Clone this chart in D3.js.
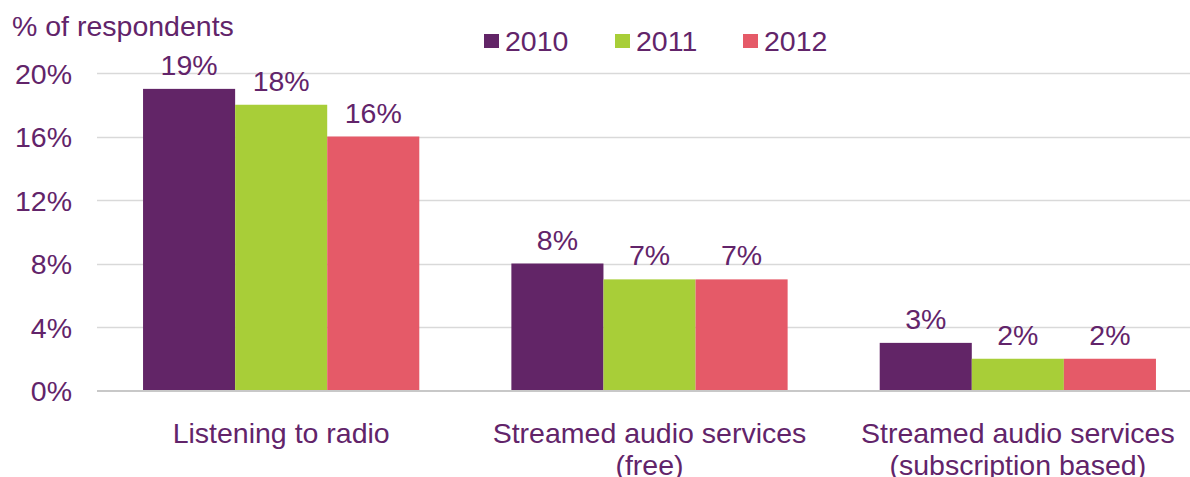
<!DOCTYPE html>
<html><head><meta charset="utf-8">
<script src="https://cdn.jsdelivr.net/npm/d3@7"></script>
<style>body{margin:0;background:#fff;} svg{display:block;font-family:"Liberation Sans",Arial,sans-serif;}</style>
</head><body><svg id="c" width="1190" height="477"></svg>
<script>
const categories = [["Listening to radio"], ["Streamed audio services", "(free)"], ["Streamed audio services", "(subscription based)"]];
const years = ["2010", "2011", "2012"];
const v2010 = [19, 8, 3];
const v2011 = [18, 7, 2];
const v2012 = [16, 7, 2];
const yTicks = [0, 4, 8, 12, 16, 20];
const colors = ["#622567", "#A8CE38", "#E55A68"];
const textColor = "#62246A";
const fs = "28.5px";

const series = [v2010, v2011, v2012];
const svg = d3.select("#c");
const x0 = d3.scaleBand().domain(d3.range(categories.length)).range([97, 1202]).paddingInner(0.25).paddingOuter(0.125);
const x1 = d3.scaleBand().domain(years).range([0, x0.bandwidth()]);
const y = d3.scaleLinear().domain([0, 20]).range([390.5, 73]);

// y axis labels
const yAxis = d3.axisLeft(y).tickValues(yTicks).tickFormat(d => d + "%").tickSize(0).tickPadding(25);
const gy = svg.append("g").attr("transform", "translate(97,0)").call(yAxis);
gy.select(".domain").remove();
gy.selectAll("text").attr("fill", textColor).style("font-size", fs).attr("dy", "0.36em");
// gridlines
svg.append("g").selectAll("line").data(yTicks.filter(d => d > 0)).join("line")
  .attr("x1", 97).attr("x2", 1190).attr("y1", d => Math.round(y(d)) + 0.5).attr("y2", d => Math.round(y(d)) + 0.5)
  .attr("stroke", "#d9d9d9").attr("stroke-width", 1.3);

// bars
const groups = svg.append("g").selectAll("g").data(categories).join("g")
  .attr("transform", (d, i) => `translate(${x0(i)},0)`);
groups.each(function(c, i) {
  const g = d3.select(this);
  years.forEach((yr, j) => {
    const val = series[j][i];
    g.append("rect").attr("x", x1(yr)).attr("width", x1.bandwidth())
      .attr("y", y(val)).attr("height", y(0) - y(val)).attr("fill", colors[j]);
    g.append("text").attr("x", x1(yr) + x1.bandwidth() / 2).attr("y", y(val) - 14)
      .attr("text-anchor", "middle").attr("fill", textColor).style("font-size", fs).text(val + "%");
  });
});

// x axis baseline
svg.append("line").attr("x1", 97).attr("x2", 1190).attr("y1", y(0) + 0.5).attr("y2", y(0) + 0.5)
  .attr("stroke", "#c8c8c8").attr("stroke-width", 2);

// category labels
const xAxis = d3.axisBottom(x0).tickSize(0).tickFormat("");
svg.append("g").attr("transform", `translate(0,${y(0)})`).call(xAxis).select(".domain").remove();
categories.forEach((lines, i) => {
  const t = svg.append("text").attr("x", x0(i) + x0.bandwidth() / 2).attr("y", 443)
    .attr("text-anchor", "middle").attr("fill", textColor).style("font-size", fs);
  lines.forEach((l, k) => t.append("tspan").attr("x", x0(i) + x0.bandwidth() / 2).attr("dy", k === 0 ? 0 : 32).text(l));
});

// title
svg.append("text").attr("x", 12).attr("y", 36).attr("fill", textColor).style("font-size", fs).text("% of respondents");

// legend
const legX = [484, 615, 743];
years.forEach((yr, j) => {
  svg.append("rect").attr("x", legX[j]).attr("y", 34).attr("width", 15).attr("height", 14).attr("fill", colors[j]);
  svg.append("text").attr("x", legX[j] + 21).attr("y", 51).attr("fill", textColor).style("font-size", fs).text(yr);
});
</script></body></html>
